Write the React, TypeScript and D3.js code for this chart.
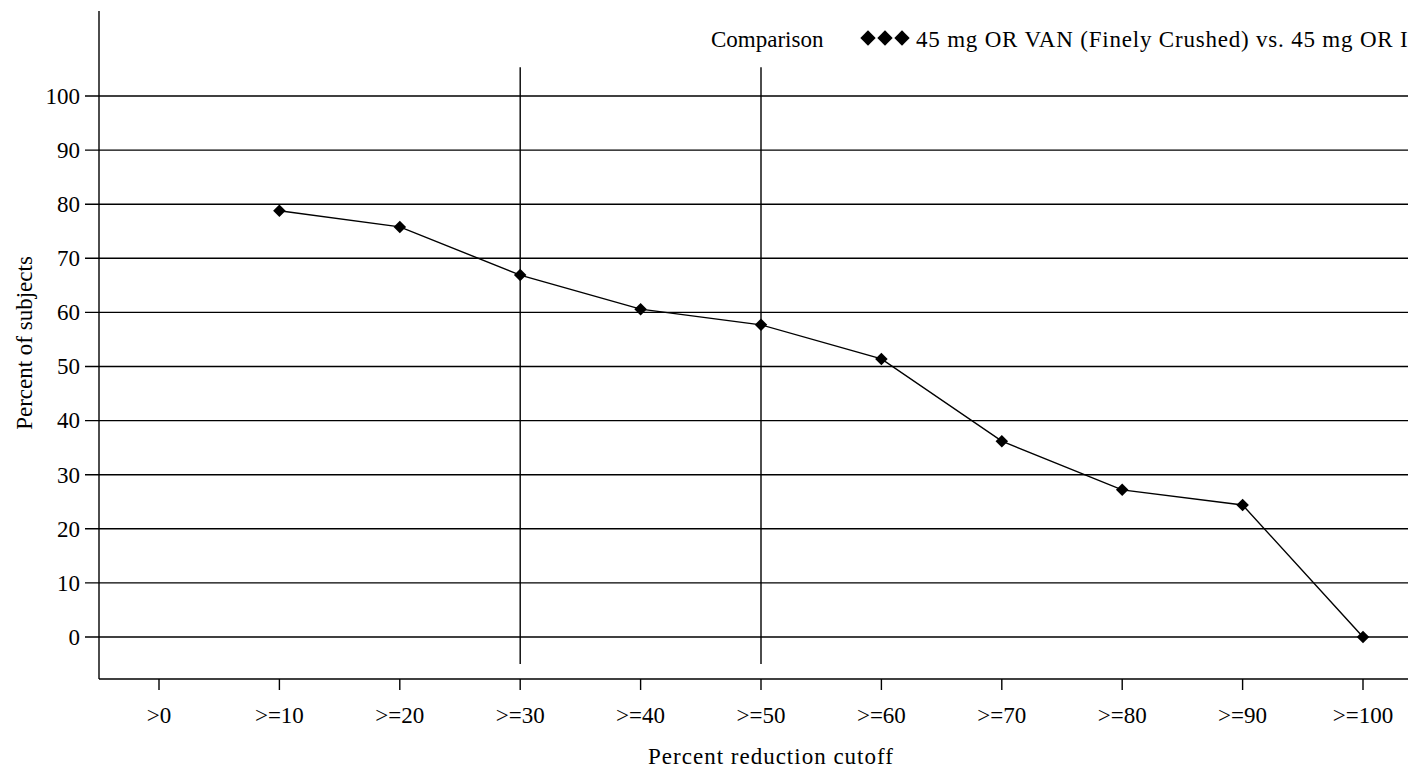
import React, { useEffect, useRef } from 'react';
import * as d3 from 'd3';

const categories = ['>0', '>=10', '>=20', '>=30', '>=40', '>=50', '>=60', '>=70', '>=80', '>=90', '>=100'];
const seriesCats = ['>=10', '>=20', '>=30', '>=40', '>=50', '>=60', '>=70', '>=80', '>=90', '>=100'];
const seriesValues = [78.8, 75.8, 66.9, 60.6, 57.7, 51.4, 36.2, 27.2, 24.4, 0];
const yTicks = [0, 10, 20, 30, 40, 50, 60, 70, 80, 90, 100];
const refLines = ['>=30', '>=50'];
const seriesName = '45 mg OR VAN (Finely Crushed) vs. 45 mg OR IR';

const W = 1408;
const H = 769;
const FONT = '"Liberation Serif", "Times New Roman", serif';

const App = () => {
  const ref = useRef<SVGSVGElement | null>(null);

  useEffect(() => {
    const svg = d3.select(ref.current);
    svg.selectAll('*').remove();

    const x = d3.scalePoint<string>().domain(categories).range([159, 1363]);
    const y = d3.scaleLinear().domain([0, 100]).range([637, 96]);

    const axisX = 99;
    const axisY = 679;
    const sw = 1.4;

    // gridlines + y ticks
    svg
      .append('g')
      .selectAll('line')
      .data(yTicks)
      .enter()
      .append('line')
      .attr('x1', 85)
      .attr('x2', W)
      .attr('y1', (d) => y(d))
      .attr('y2', (d) => y(d))
      .attr('stroke', '#000')
      .attr('stroke-width', sw);

    svg
      .append('g')
      .selectAll('text')
      .data(yTicks)
      .enter()
      .append('text')
      .attr('x', 80)
      .attr('y', (d) => y(d))
      .attr('dy', '0.34em')
      .attr('text-anchor', 'end')
      .attr('font-family', FONT)
      .attr('font-size', 23)
      .text((d) => d);

    // reference verticals
    svg
      .append('g')
      .selectAll('line')
      .data(refLines)
      .enter()
      .append('line')
      .attr('x1', (d) => x(d)!)
      .attr('x2', (d) => x(d)!)
      .attr('y1', y(105.3))
      .attr('y2', y(-5))
      .attr('stroke', '#000')
      .attr('stroke-width', sw);

    // axes
    svg
      .append('line')
      .attr('x1', axisX)
      .attr('x2', axisX)
      .attr('y1', 11)
      .attr('y2', axisY)
      .attr('stroke', '#000')
      .attr('stroke-width', sw);
    svg
      .append('line')
      .attr('x1', axisX)
      .attr('x2', W)
      .attr('y1', axisY)
      .attr('y2', axisY)
      .attr('stroke', '#000')
      .attr('stroke-width', sw);

    // x ticks
    const xt = svg.append('g');
    xt.selectAll('line')
      .data(categories)
      .enter()
      .append('line')
      .attr('x1', (d) => x(d)!)
      .attr('x2', (d) => x(d)!)
      .attr('y1', axisY)
      .attr('y2', axisY + 11)
      .attr('stroke', '#000')
      .attr('stroke-width', sw);
    xt.selectAll('text')
      .data(categories)
      .enter()
      .append('text')
      .attr('x', (d) => x(d)!)
      .attr('y', 723)
      .attr('text-anchor', 'middle')
      .attr('font-family', FONT)
      .attr('font-size', 23)
      .text((d) => d);

    // axis titles
    svg
      .append('text')
      .attr('x', 771)
      .attr('y', 764)
      .attr('text-anchor', 'middle')
      .attr('font-family', FONT)
      .attr('font-size', 23)
      .attr('letter-spacing', 1)
      .text('Percent reduction cutoff');
    svg
      .append('text')
      .attr('transform', 'translate(32, 343) rotate(-90)')
      .attr('text-anchor', 'middle')
      .attr('font-family', FONT)
      .attr('font-size', 23)
      .text('Percent of subjects');

    // series
    const pts = seriesCats.map((c, i) => ({ c, v: seriesValues[i] }));
    const line = d3
      .line<{ c: string; v: number }>()
      .x((d) => x(d.c)!)
      .y((d) => y(d.v));
    svg
      .append('path')
      .datum(pts)
      .attr('d', line)
      .attr('fill', 'none')
      .attr('stroke', '#000')
      .attr('stroke-width', 1.4);

    const diamond = d3.symbol().type(d3.symbolDiamond2).size(100);
    svg
      .append('g')
      .selectAll('path')
      .data(pts)
      .enter()
      .append('path')
      .attr('d', diamond)
      .attr('transform', (d) => `translate(${x(d.c)}, ${y(d.v)})`)
      .attr('fill', '#000');

    // legend
    svg
      .append('text')
      .attr('x', 711)
      .attr('y', 47)
      .attr('font-family', FONT)
      .attr('font-size', 23)
      .text('Comparison');
    const legDiamond = d3.symbol().type(d3.symbolDiamond2).size(150);
    svg
      .append('g')
      .selectAll('path')
      .data([868, 885, 902])
      .enter()
      .append('path')
      .attr('d', legDiamond)
      .attr('transform', (d) => `translate(${d}, 38)`)
      .attr('fill', '#000');
    svg
      .append('text')
      .attr('x', 916)
      .attr('y', 47)
      .attr('font-family', FONT)
      .attr('font-size', 23)
      .attr('letter-spacing', 0.8)
      .text(seriesName);
  }, []);

  return (
    <svg
      ref={ref}
      width={W}
      height={H}
      style={{ position: 'absolute', left: 0, top: 0, background: '#fff', overflow: 'hidden' }}
    />
  );
};

export default App;
